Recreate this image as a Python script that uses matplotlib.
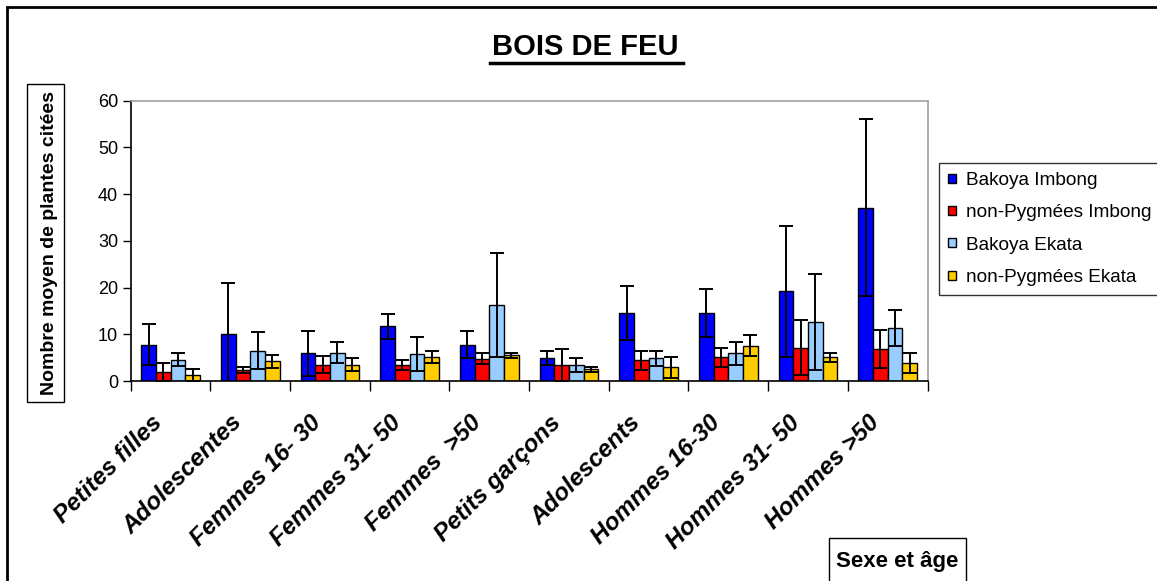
import numpy as np
import matplotlib
matplotlib.use('Agg')
import matplotlib.pyplot as plt
from matplotlib.patches import Rectangle, Patch
from matplotlib.lines import Line2D
from matplotlib.transforms import ScaledTranslation

plt.rcParams['font.family'] = ['Liberation Sans', 'DejaVu Sans']

categories = ['Petites filles', 'Adolescentes', 'Femmes 16- 30', 'Femmes 31- 50',
              'Femmes  >50', 'Petits garçons', 'Adolescents', 'Hommes 16-30',
              'Hommes 31- 50', 'Hommes >50']
series = ['Bakoya Imbong', 'non-Pygmées Imbong', 'Bakoya Ekata', 'non-Pygmées Ekata']

bakoya_imbong = [7.8, 10.1, 5.9, 11.7, 7.8, 4.9, 14.6, 14.6, 19.2, 37.1]
bakoya_imbong_err = [4.4, 10.8, 4.8, 2.7, 2.8, 1.5, 5.8, 5.1, 14.0, 19.0]
nonpyg_imbong = [1.9, 2.4, 3.5, 3.4, 4.8, 3.4, 4.4, 5.1, 7.1, 6.8]
nonpyg_imbong_err = [2.0, 0.6, 1.8, 1.1, 1.1, 3.4, 2.0, 2.0, 5.9, 4.1]
bakoya_ekata = [4.6, 6.5, 6.1, 5.8, 16.3, 3.5, 4.9, 5.9, 12.7, 11.4]
bakoya_ekata_err = [1.3, 3.9, 2.3, 3.6, 11.1, 1.5, 1.6, 2.5, 10.3, 3.9]
nonpyg_ekata = [1.3, 4.2, 3.5, 5.1, 5.5, 2.5, 2.9, 7.5, 5.1, 3.9]
nonpyg_ekata_err = [1.3, 1.35, 1.4, 1.3, 0.6, 0.5, 2.2, 2.25, 1.0, 2.1]

colors = ['#0000FF', '#FF0000', '#99CCFF', '#FFCC00']

W, H = 1157, 581
fig = plt.figure(figsize=(W / 100, H / 100), dpi=100)


def fx(px):
    return px / W


def fy(py):
    return 1 - py / H


ax = fig.add_axes([fx(130.7), fy(381), fx(927.5) - fx(130.7), fy(100.7) - fy(381)])

x = np.arange(len(categories))
w = 0.184
values = [bakoya_imbong, nonpyg_imbong, bakoya_ekata, nonpyg_ekata]
errors = [bakoya_imbong_err, nonpyg_imbong_err, bakoya_ekata_err, nonpyg_ekata_err]
for i, (vals, errs) in enumerate(zip(values, errors)):
    pos = x + (i - 1.5) * w
    ax.bar(pos, vals, width=w, color=colors[i], edgecolor='black', linewidth=1.0, zorder=2)
    ax.errorbar(pos, vals, yerr=errs, fmt='none', ecolor='black', elinewidth=1.4,
                capsize=5, capthick=1.4, zorder=3)

ax.set_xlim(-0.5, len(categories) - 0.5)
ax.set_ylim(0, 60)
ax.set_yticks(range(0, 61, 10))
ax.tick_params(axis='y', labelsize=13, length=6, width=1, pad=3, direction='out')

# separateurs de categories = ticks mineurs, libelles sur les ticks majeurs
ax.set_xticks(np.arange(-0.5, len(categories)), minor=True)
ax.set_xticks(x)
ax.tick_params(axis='x', which='minor', length=7, width=1, direction='out')
ax.tick_params(axis='x', which='major', length=0, pad=21.5)
ax.set_xticklabels(categories, rotation=45, ha='right', va='top', rotation_mode='anchor',
                   fontsize=17.5, fontweight='bold', fontstyle='italic')
for lab in ax.get_xticklabels():
    lab.set_transform(lab.get_transform() + ScaledTranslation(-0.2, 0, fig.dpi_scale_trans))

for s in ['top', 'right']:
    ax.spines[s].set_color('#a0a0a0')
    ax.spines[s].set_linewidth(1.2)
for s in ['left', 'bottom']:
    ax.spines[s].set_color('black')
    ax.spines[s].set_linewidth(1.2)

# titre souligne
fig.text(fx(585.5), fy(47), 'BOIS DE FEU', ha='center', va='center',
         fontsize=21, fontweight='bold')
fig.add_artist(Line2D([fx(490), fx(683)], [fy(63), fy(63)], color='black', linewidth=2.5))

# titre axe y dans un cadre
fig.add_artist(Rectangle((fx(27.3), fy(402)), fx(64.3) - fx(27.3), fy(84) - fy(402),
                         fill=False, edgecolor='black', linewidth=1))
fig.text(fx(50), fy(243), 'Nombre moyen de plantes citées', rotation=90,
         ha='center', va='center', fontsize=14, fontweight='bold')

# titre axe x dans un cadre
fig.add_artist(Rectangle((fx(829.3), fy(600)), fx(965.7) - fx(829.3), fy(537.7) - fy(600),
                         fill=False, edgecolor='black', linewidth=1))
fig.text(fx(897.5), fy(562), 'Sexe et âge', ha='center', va='center',
         fontsize=16, fontweight='bold')

# cadre du graphique
fig.add_artist(Rectangle((fx(7.3), fy(600)), fx(1200) - fx(7.3), fy(7.3) - fy(600),
                         fill=False, edgecolor='black', linewidth=2))

handles = [Patch(facecolor=c, edgecolor='black', linewidth=1) for c in colors]
leg = fig.legend(handles, series, loc='upper left', bbox_to_anchor=(fx(939.3), fy(163.3)),
                 fontsize=13.7, frameon=True, fancybox=False, edgecolor='black',
                 borderpad=0.47, borderaxespad=0, handlelength=0.4, handleheight=0.35,
                 handletextpad=0.55, labelspacing=0.8)
leg.get_frame().set_linewidth(1)

fig.savefig('out.png', dpi=100)
